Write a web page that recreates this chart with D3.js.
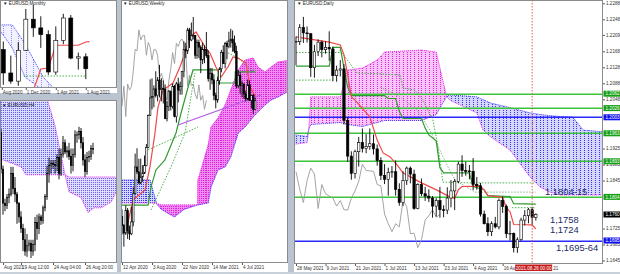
<!DOCTYPE html>
<html><head><meta charset="utf-8">
<script src="https://cdn.jsdelivr.net/npm/d3@7"></script>
<style>
body{margin:0;background:#b9c4d0;overflow:hidden}
svg{display:block}
text{font-family:"Liberation Sans",Arial,sans-serif}
</style></head><body>
<script>
// ---------- DAILY (28 May .. 27 Aug 2021) ----------
const dDateLabels = ["28 May 2021","9 Jun 2021","21 Jun 2021","1 Jul 2021","13 Jul 2021","23 Jul 2021","4 Aug 2021","16 Aug 2021"];
const dDateIdx = [0,8,16,24,32,40,48,56];
const dOpen = [1.2193,1.2192,1.2228,1.2214,1.2212,1.2127,1.2167,1.2191,1.2172,1.2178,1.2174,1.2107,1.2121,1.2124,1.1995,1.1906,1.1863,1.1917,1.1940,1.1925,1.1930,1.1937,1.1924,1.1895,1.1858,1.1848,1.1865,1.1867,1.1823,1.1790,1.1845,1.1876,1.1861,1.1775,1.1835,1.1812,1.1806,1.1801,1.1781,1.1795,1.1772,1.1771,1.1801,1.1819,1.1843,1.1886,1.1870,1.1869,1.1868,1.1835,1.1832,1.1761,1.1737,1.1717,1.1737,1.1729,1.1795,1.1780,1.1712,1.1713,1.1677,1.1697,1.1746,1.1757,1.1772,1.1753];
const dHigh = [1.2205,1.2236,1.2254,1.2230,1.2214,1.2184,1.2198,1.2195,1.2193,1.2218,1.2180,1.2132,1.2146,1.2136,1.2003,1.1918,1.1922,1.1954,1.1975,1.1961,1.1975,1.1960,1.1935,1.1903,1.1886,1.1877,1.1881,1.1895,1.1838,1.1868,1.1880,1.1880,1.1872,1.1838,1.1850,1.1829,1.1823,1.1806,1.1801,1.1829,1.1783,1.1828,1.1846,1.1849,1.1892,1.1908,1.1892,1.1884,1.1901,1.1854,1.1839,1.1770,1.1753,1.1743,1.1754,1.1800,1.1805,1.1785,1.1744,1.1715,1.1703,1.1752,1.1771,1.1776,1.1779,1.1763];
const dLow = [1.2133,1.2184,1.2189,1.2190,1.2104,1.2102,1.2156,1.2153,1.2162,1.2144,1.2093,1.2092,1.2105,1.1985,1.1892,1.1847,1.1850,1.1880,1.1915,1.1913,1.1922,1.1910,1.1882,1.1846,1.1836,1.1807,1.1852,1.1807,1.1782,1.1781,1.1834,1.1838,1.1772,1.1773,1.1806,1.1794,1.1791,1.1752,1.1755,1.1752,1.1753,1.1761,1.1778,1.1771,1.1838,1.1854,1.1857,1.1848,1.1821,1.1822,1.1755,1.1735,1.1706,1.1706,1.1725,1.1723,1.1764,1.1701,1.1695,1.1665,1.1664,1.1694,1.1733,1.1738,1.1735,1.1745];
const dClose = [1.2193,1.2227,1.2214,1.2212,1.2127,1.2167,1.2191,1.2172,1.2178,1.2174,1.2107,1.2121,1.2124,1.1995,1.1906,1.1863,1.1917,1.1940,1.1925,1.1930,1.1937,1.1924,1.1895,1.1858,1.1848,1.1865,1.1867,1.1823,1.1790,1.1845,1.1876,1.1861,1.1775,1.1835,1.1812,1.1806,1.1801,1.1781,1.1795,1.1772,1.1771,1.1801,1.1819,1.1843,1.1886,1.1870,1.1869,1.1868,1.1835,1.1832,1.1761,1.1737,1.1717,1.1737,1.1729,1.1795,1.1780,1.1712,1.1713,1.1677,1.1697,1.1746,1.1757,1.1772,1.1753,1.1760];
// ichimoku readings (bar index, price)
const dTenkan = [[0,1.2204],[9,1.2191],[12,1.2184],[13,1.2159],[14,1.2109],[15,1.2054],[16,1.2046],[20,1.2004],[22,1.1946],[23.6,1.1914],[25.5,1.1904],[27.4,1.1884],[29,1.1864],[31,1.1854],[33.6,1.1841],[36.3,1.1829],[38.2,1.1821],[41.7,1.1804],[43,1.1800],[44,1.1822],[45,1.1830],[50,1.1831],[51,1.1821],[52,1.1807],[56,1.1803],[57,1.1777],[58,1.1767],[59,1.1735],[64,1.1734],[65,1.1724]];
const dKijun = [[0,1.2131],[9,1.2131],[10,1.2178],[12,1.2178],[13,1.2126],[14,1.2079],[15,1.2057],[24,1.2057],[25,1.2050],[27,1.2050],[28,1.2018],[29,1.2000],[34,1.2000],[35,1.1976],[36,1.1959],[38,1.1944],[39,1.1877],[40,1.1864],[47,1.1864],[48,1.1830],[51,1.1822],[52,1.1807],[58,1.1805],[59,1.1787],[65,1.1786]];
const dDotted1 = [[0,1.2165],[12,1.2165]];
const dDotted2 = [[0,1.2096],[10,1.2096]];
const dDotted3 = [[11.9,1.2171],[16.5,1.2114],[28.2,1.2109],[29,1.2076],[32.2,1.2071],[34.4,1.2046],[37.1,1.1996],[38.5,1.1929],[39.8,1.1841],[47.2,1.1839],[65,1.1839]];
const dDotted4 = [[22.8,1.2079],[28.2,1.2054],[32.8,1.2021],[36.3,1.1971],[39,1.1921],[40.9,1.1884],[43.1,1.1846],[48.5,1.1816],[65,1.1816]];
const dDotted5 = [[58.5,1.1777],[65,1.1777]];
const dCloudIdx = [-1,3,3.5,4,12,14,18,22,24,34,38,40.8,41.7,49,50.7,52.6,58,63.4,66.1,68.8,71.5,75,77.8,84];
const dSpanA = [1.1960,1.1955,1.1975,1.1985,1.1990,1.1985,1.1980,1.1990,1.1995,1.1995,1.2010,1.2055,1.2059,1.2054,1.2047,1.2039,1.2027,1.2014,1.2010,1.2007,1.2005,1.2004,1.1971,1.1966];
const dSpanB = [1.1935,1.1940,1.1975,1.2054,1.2054,1.2121,1.2126,1.2146,1.2166,1.2171,1.2166,1.2055,1.2046,1.2014,1.1971,1.1955,1.1921,1.1854,1.1829,1.1816,1.1809,1.1809,1.1809,1.1809];
const dLevels = [1.2062,1.2026,1.2003,1.1963,1.1893,1.1804,1.1695];
const dLevelKind = ["g","g","b","g","g","g","b"];
const dPriceTicks = [1.2288,1.2248,1.2209,1.2168,1.2128,1.2088,1.2048,1.1925,1.1885,1.1845,1.1725,1.1685,1.1645];
const dLastPrice = 1.1760;
const dCursorIdx = 64;
const dCursorLabel = "2021.08.26 00:00";
const dNotes = ["1,1804-15","1,1758","1,1724","1,1695-64"];

// ---------- WEEKLY (12 Apr 2020 .. 22 Aug 2021) ----------
const wDateLabels = ["12 Apr 2020","3 Aug 2020","22 Nov 2020","14 Mar 2021","4 Jul 2021"];
const wDateIdx = [0,16,32,48,64];
const wOpen = [1.0940,1.0876,1.0823,1.0982,1.0839,1.0818,1.0902,1.1101,1.1290,1.1256,1.1177,1.1220,1.1247,1.1300,1.1428,1.1655,1.1778,1.1787,1.1842,1.1794,1.1904,1.1838,1.1846,1.1838,1.1632,1.1716,1.1826,1.1718,1.1860,1.1646,1.1876,1.1833,1.1857,1.1963,1.2121,1.2110,1.2258,1.2187,1.2216,1.2219,1.2079,1.2169,1.2136,1.2046,1.2119,1.2118,1.2077,1.1914,1.1952,1.1905,1.1795,1.1763,1.1900,1.1983,1.2098,1.2020,1.2163,1.2141,1.2181,1.2193,1.2166,1.2107,1.1863,1.1937,1.1865,1.1876,1.1806,1.1771,1.1870,1.1761,1.1795,1.1697];
const wHigh = [1.0990,1.0887,1.1019,1.1000,1.0876,1.1009,1.1146,1.1384,1.1422,1.1348,1.1349,1.1303,1.1371,1.1452,1.1660,1.1909,1.1916,1.1866,1.1966,1.1925,1.2011,1.1917,1.1901,1.1872,1.1755,1.1832,1.1828,1.1880,1.1870,1.1891,1.1920,1.1892,1.1965,1.2177,1.2167,1.2273,1.2272,1.2310,1.2349,1.2223,1.2190,1.2189,1.2150,1.2169,1.2150,1.2243,1.2113,1.1990,1.1989,1.1945,1.1815,1.1927,1.1994,1.2117,1.2150,1.2173,1.2181,1.2245,1.2266,1.2254,1.2218,1.2146,1.1975,1.1960,1.1895,1.1880,1.1829,1.1908,1.1901,1.1800,1.1805,1.1779];
const wLow = [1.0812,1.0727,1.0810,1.0782,1.0775,1.0808,1.0871,1.1096,1.1240,1.1168,1.1169,1.1185,1.1240,1.1295,1.1422,1.1650,1.1696,1.1711,1.1780,1.1753,1.1781,1.1753,1.1738,1.1627,1.1612,1.1685,1.1689,1.1702,1.1640,1.1603,1.1746,1.1800,1.1801,1.1923,1.2058,1.2088,1.2130,1.2178,1.2191,1.2054,1.2054,1.2059,1.1952,1.2016,1.2023,1.2060,1.1893,1.1835,1.1874,1.1762,1.1704,1.1743,1.1870,1.1958,1.2018,1.1986,1.2051,1.2128,1.2133,1.2104,1.2093,1.1847,1.1847,1.1807,1.1782,1.1772,1.1752,1.1761,1.1755,1.1706,1.1664,1.1694];
const wClose = [1.0876,1.0823,1.0982,1.0839,1.0818,1.0902,1.1101,1.1290,1.1256,1.1177,1.1220,1.1247,1.1300,1.1428,1.1655,1.1778,1.1787,1.1842,1.1794,1.1904,1.1838,1.1846,1.1838,1.1632,1.1716,1.1826,1.1718,1.1860,1.1646,1.1876,1.1833,1.1857,1.1963,1.2121,1.2110,1.2258,1.2187,1.2216,1.2219,1.2079,1.2169,1.2136,1.2046,1.2119,1.2118,1.2077,1.1914,1.1952,1.1905,1.1795,1.1763,1.1900,1.1983,1.2098,1.2020,1.2163,1.2141,1.2181,1.2193,1.2166,1.2107,1.1863,1.1937,1.1865,1.1876,1.1806,1.1771,1.1870,1.1761,1.1795,1.1697,1.1760];
const wTenkan = [[3,1.0890],[5.9,1.1057],[12.3,1.1127],[14.9,1.1290],[17.6,1.1530],[19.2,1.1713],[21.9,1.1833],[27.2,1.1883],[30.9,1.1996],[33.6,1.2095],[36.3,1.2208],[39.5,1.2243],[44.3,1.2137],[46.9,1.2095],[50.1,1.1996],[52.8,1.1925],[56.5,1.1996],[59.2,1.2067],[61.9,1.2059],[66.1,1.2024],[68.3,1.1855],[71,1.1790]];
const wKijun = [[0,1.1021],[13.9,1.1021],[15.5,1.1149],[18.1,1.1269],[22.9,1.1339],[28.8,1.1530],[31.5,1.1671],[36.3,1.1904],[37.9,1.1975],[51.2,1.1975],[51.3,1.1883],[60.3,1.1883],[60.4,1.1961],[71,1.1961]];
const wDotted1 = [[13.9,1.1410],[40.5,1.1572]];
const wDotted2 = [[15.5,1.0986],[26.1,1.1290],[33.6,1.1530],[38.9,1.1954]];
const wDotted3 = [[56.5,1.2095],[62,1.2060],[68.8,1.1975],[71,1.1975]];
const wTrend = [[29.9,1.1586],[74.1,1.1798]];
const wCloudIdx = [-2,15,17,18.5,21,28,33,40.4,40.5,46,47.5,51.2,55,58,62,65.6,70,72.5,76.3,79.5,83.2,90];
const wSpanA = [1.1198,1.1198,1.1100,1.1030,1.0990,1.0937,1.0990,1.1022,1.1022,1.1036,1.1149,1.1269,1.1290,1.1360,1.1530,1.1572,1.1643,1.1678,1.1728,1.1763,1.1784,1.1833];
const wSpanB = [1.1036,1.1036,1.1036,1.1030,1.1022,1.1022,1.1022,1.1022,1.1198,1.1445,1.1572,1.1636,1.1728,1.1833,1.1975,1.2045,1.2059,1.1996,1.1961,1.1996,1.2031,1.2045];

// ---------- MONTHLY (Aug 2020 .. Aug 2021) ----------
const mDateLabels = ["Aug 2020","1 Dec 2020","1 Apr 2021","1 Aug 2021"];
const mDateIdx = [0.8,4,8,12];
const mOpen = [1.1777,1.1936,1.1721,1.1646,1.1929,1.2216,1.2136,1.2074,1.1730,1.2020,1.2227,1.1858,1.1870];
const mHigh = [1.1966,1.2011,1.1881,1.2004,1.2310,1.2349,1.2243,1.2113,1.2150,1.2266,1.2254,1.1909,1.1901];
const mLow = [1.1696,1.1612,1.1622,1.1603,1.1925,1.2054,1.1952,1.1704,1.1704,1.1986,1.1847,1.1752,1.1664];
const mClose = [1.1936,1.1721,1.1646,1.1929,1.2216,1.2136,1.2074,1.1730,1.2020,1.2227,1.1858,1.1870,1.1760];
const mTenkan = [[5,1.1558],[6,1.1758],[7,1.1767],[8,1.1976],[11,1.1976],[12,1.2006],[12.5,1.2010]];
const mDotted = [[3.7,1.1693],[12,1.1693]];
const mCloudIdx = [-1,0.8,2.2,3.9,6.3,8];
const mSpanA = [1.2163,1.2163,1.2163,1.1990,1.1684,1.1560];
const mSpanB = [1.2150,1.2089,1.1950,1.1684,1.1560,1.1500];

// ---------- H4 (17 Aug 12:00 .. 27 Aug 04:00) ----------
const hDateLabels = ["Aug 2021","19 Aug 12:00","24 Aug 04:00","26 Aug 20:00"];
const hDateIdx = [1,10,26,42];
const hOpen = [1.1774,1.1742,1.1712,1.1710,1.1717,1.1720,1.1738,1.1725,1.1720,1.1712,1.1700,1.1690,1.1680,1.1670,1.1675,1.1677,1.1670,1.1676,1.1695,1.1690,1.1700,1.1697,1.1708,1.1718,1.1738,1.1745,1.1747,1.1746,1.1745,1.1752,1.1738,1.1755,1.1765,1.1757,1.1758,1.1753,1.1745,1.1755,1.1772,1.1772,1.1775,1.1765,1.1750,1.1740,1.1752,1.1753,1.1760];
const hHigh = [1.1777,1.1745,1.1716,1.1720,1.1725,1.1744,1.1744,1.1735,1.1722,1.1713,1.1705,1.1694,1.1690,1.1685,1.1680,1.1680,1.1680,1.1700,1.1702,1.1703,1.1702,1.1710,1.1720,1.1745,1.1752,1.1750,1.1750,1.1750,1.1755,1.1760,1.1760,1.1771,1.1768,1.1762,1.1765,1.1760,1.1760,1.1776,1.1775,1.1779,1.1778,1.1770,1.1755,1.1757,1.1758,1.1763,1.1765];
const hLow = [1.1738,1.1702,1.1705,1.1707,1.1712,1.1718,1.1720,1.1713,1.1694,1.1695,1.1686,1.1670,1.1666,1.1665,1.1670,1.1664,1.1666,1.1670,1.1680,1.1685,1.1693,1.1694,1.1705,1.1715,1.1730,1.1738,1.1742,1.1738,1.1740,1.1733,1.1736,1.1752,1.1755,1.1752,1.1750,1.1738,1.1740,1.1752,1.1765,1.1768,1.1760,1.1745,1.1735,1.1737,1.1748,1.1750,1.1755];
const hClose = [1.1742,1.1712,1.1710,1.1717,1.1720,1.1738,1.1725,1.1720,1.1712,1.1700,1.1690,1.1680,1.1670,1.1675,1.1677,1.1670,1.1676,1.1695,1.1690,1.1700,1.1697,1.1708,1.1718,1.1738,1.1745,1.1747,1.1746,1.1745,1.1752,1.1738,1.1755,1.1765,1.1757,1.1758,1.1753,1.1745,1.1755,1.1772,1.1772,1.1775,1.1765,1.1750,1.1740,1.1752,1.1753,1.1760,1.1760];
const hCloudIdx = [-2,10,12.5,22.5,27,31,32,34,40,43.5,46.5,50,55,58.5,62];
const hSpanA = [1.1807,1.1807,1.1807,1.1807,1.1780,1.1746,1.1737,1.1722,1.1717,1.1704,1.1708,1.1708,1.1713,1.1725,1.1728];
const hSpanB = [1.1752,1.1744,1.1737,1.1737,1.1737,1.1737,1.1737,1.1735,1.1735,1.1735,1.1735,1.1735,1.1735,1.1735,1.1735];

// ================= drawing =================
const RED = "#f04848", GREEN = "#2f9a2f", DOTG = "#34a834", GREY = "#9a9a9a";
const PINK = "#ee2cee", BLUE = "#3c3cff";

const svg = d3.select("body").append("svg").attr("width", 620).attr("height", 274);
svg.append("rect").attr("width", 620).attr("height", 274).attr("fill", "#b9c4d0");
const defs = svg.append("defs");

function makePanel(o) {
  svg.append("rect").attr("x", o.frame[0]).attr("y", o.frame[1])
    .attr("width", o.frame[2]).attr("height", o.frame[3]).attr("fill", "#fff");
  defs.append("clipPath").attr("id", "c-" + o.name).append("rect")
    .attr("x", o.plot[0]).attr("y", o.plot[1])
    .attr("width", o.plot[2] - o.plot[0]).attr("height", o.plot[3] - o.plot[1]);
  const g = svg.append("g").attr("clip-path", `url(#c-${o.name})`);
  const x = d3.scaleLinear().domain(o.xd).range(o.xr);
  const y = d3.scaleLinear().domain(o.yd).range(o.yr);
  return {g, x, y, o};
}

function frame(P) {
  const o = P.o;
  svg.append("rect").attr("x", o.plot[0] + 0.5).attr("y", o.plot[1] + 0.5)
    .attr("width", o.plot[2] - o.plot[0] - 1).attr("height", o.plot[3] - o.plot[1] - 1)
    .attr("fill", "none").attr("stroke", "#8c8c8c").attr("stroke-width", 1);
}

// cloud: tinted segments between the spans, then dotted columns per bar clipped to them
function cloud(P, name, idx, A, B, up, dn, edgeA, edgeB, bars) {
  const pts = idx.map((d, i) => ({i: d, a: A[i], b: B[i]}));
  const area = d3.area().x(d => P.x(d.i)).y0(d => P.y(d.a)).y1(d => P.y(d.b));
  const segs = d3.pairs(pts);
  const isUp = s => s[0].a + s[1].a >= s[0].b + s[1].b;
  P.g.append("g").selectAll("path").data(segs).join("path")
    .attr("d", s => area(s))
    .style("fill", s => isUp(s) ? up.tint : dn.tint)
    .style("stroke", s => isUp(s) ? up.tint : dn.tint).attr("stroke-width", 0.6);
  const groups = [["u", up, segs.filter(isUp)], ["d", dn, segs.filter(s => !isUp(s))]];
  groups.forEach(([k, c, ss]) => {
    const id = `cl-${name}-${k}`;
    defs.append("clipPath").attr("id", id).selectAll("path").data(ss).join("path").attr("d", s => area(s));
    P.g.append("g").attr("clip-path", `url(#${id})`)
      .selectAll("line").data(bars).join("line")
      .attr("x1", i => Math.round(P.x(i)) + 0.5).attr("x2", i => Math.round(P.x(i)) + 0.5)
      .attr("y1", P.o.plot[1]).attr("y2", P.o.plot[3])
      .style("stroke", c.dot).attr("stroke-width", 1).attr("stroke-dasharray", "1,1");
  });
  const la = d3.line().x(d => P.x(d.i)).y(d => P.y(d.a));
  const lb = d3.line().x(d => P.x(d.i)).y(d => P.y(d.b));
  P.g.append("path").attr("d", la(pts)).attr("fill", "none").style("stroke", edgeA)
    .attr("stroke-width", 1).attr("stroke-dasharray", "1,1");
  P.g.append("path").attr("d", lb(pts)).attr("fill", "none").style("stroke", edgeB)
    .attr("stroke-width", 1).attr("stroke-dasharray", "1,1");
}

function series(P, pts, color, width, dash) {
  const line = d3.line().x(d => P.x(d[0])).y(d => P.y(d[1]));
  const p = P.g.append("path").attr("d", line(pts)).attr("fill", "none")
    .style("stroke", color).attr("stroke-width", width);
  if (dash) p.attr("stroke-dasharray", dash);
}

function candles(P, O, Hi, Lo, C, bw) {
  const bars = O.map((o, i) => ({i, o, h: Hi[i], l: Lo[i], c: C[i]}));
  const g = P.g.append("g");
  g.selectAll("line").data(bars).join("line")
    .attr("x1", d => P.x(d.i)).attr("x2", d => P.x(d.i))
    .attr("y1", d => P.y(d.h)).attr("y2", d => P.y(d.l))
    .style("stroke", "#000").attr("stroke-width", 0.9);
  g.selectAll("rect").data(bars).join("rect")
    .attr("x", d => P.x(d.i) - bw / 2)
    .attr("y", d => P.y(Math.max(d.o, d.c)))
    .attr("width", bw)
    .attr("height", d => Math.max(0.8, Math.abs(P.y(d.o) - P.y(d.c))))
    .style("fill", d => d.c >= d.o ? "#fff" : "#000")
    .style("stroke", "#000").attr("stroke-width", 0.6);
}

function timeAxis(P, idx, labels, yPos) {
  const ax = d3.axisBottom(P.x).tickValues(idx).tickFormat((d, i) => labels[i]).tickSize(2);
  const g = svg.append("g").attr("transform", `translate(0,${yPos})`).call(ax);
  g.select(".domain").remove();
  g.selectAll(".tick line").attr("stroke", "#555");
  g.selectAll(".tick text").attr("text-anchor", "start").attr("dx", 0.5).attr("y", 2.5)
    .attr("font-size", 4.6).attr("fill", "#333").attr("font-family", "Liberation Sans, Arial");
  return g;
}

function header(x, y, t) {
  svg.append("text").attr("x", x).attr("y", y).attr("font-size", 4.6).attr("fill", "#222").text("\u25BC " + t);
}

const pinkStyle = {tint: "#f7c4f7", dot: "#e61ee6"};
const blueStyle = {tint: "#d6d6fd", dot: "#3535ff"};

// ---------- monthly ----------
const M = makePanel({name: "m", frame: [0, 0, 117, 93], plot: [0, 0, 117, 88],
  xd: [1, 12], xr: [3.3, 85.8], yd: [1.2227, 1.1730], yr: [18, 72]});
cloud(M, "m", mCloudIdx, mSpanA, mSpanB, {tint: "#f1f1ff", dot: "#8c8cff"}, {tint: "#f1f1ff", dot: "#8c8cff"}, BLUE, BLUE, d3.range(0, 9));
series(M, mDotted, DOTG, 0.9, "1.5,1.5");
series(M, mTenkan, RED, 1.2);
candles(M, mOpen, mHigh, mLow, mClose, 4);
frame(M);
timeAxis(M, mDateIdx, mDateLabels, 88);
header(3, 5, "EURUSD,Monthly");

// ---------- H4 ----------
const HP = makePanel({name: "h", frame: [0, 100, 117, 174], plot: [0, 100, 117, 263],
  xd: [0, 46], xr: [1, 93], yd: [1.1785, 1.1664], yr: [120, 258]});
cloud(HP, "h", hCloudIdx, hSpanA, hSpanB, {tint: "#dcdcff", dot: "#5a5aff"}, {tint: "#e0dcff", dot: "#7060f5"}, PINK, PINK, d3.range(-1, 60));
candles(HP, hOpen, hHigh, hLow, hClose, 1.4);
frame(HP);
timeAxis(HP, hDateIdx, hDateLabels, 263);
header(2, 107, "EURUSD,H4");

// ---------- weekly ----------
const WP = makePanel({name: "w", frame: [121, 0, 167, 274], plot: [121, 0, 288, 263],
  xd: [0, 16], xr: [122, 152], yd: [1.2349, 1.1664], yr: [17, 114]});
cloud(WP, "w", wCloudIdx, wSpanA, wSpanB, blueStyle, {tint: "#f08cf0", dot: "#e01ee0"}, BLUE, PINK, d3.range(-1, 90));
series(WP, wClose.slice(26).map((c, i) => [i, c]), GREY, 0.9);
series(WP, wDotted1, DOTG, 0.9, "1.5,1.5");
series(WP, wDotted2, DOTG, 0.9, "1.5,1.5");
series(WP, wDotted3, DOTG, 0.9, "1.5,1.5");
series(WP, wKijun, GREEN, 1.2);
series(WP, wTenkan, RED, 1.2);
series(WP, wTrend, "#b35ee6", 1.2);
candles(WP, wOpen, wHigh, wLow, wClose, 1.6);
frame(WP);
timeAxis(WP, wDateIdx, wDateLabels, 263);
header(123, 5, "EURUSD,Weekly");

// ---------- daily ----------
const DP = makePanel({name: "d", frame: [294, 0, 326, 274], plot: [294, 0, 603, 264],
  xd: [0, 10], xr: [296, 332.9], yd: [1.2288, 1.1645], yr: [3.3, 260.5]});
cloud(DP, "d", dCloudIdx, dSpanA, dSpanB, blueStyle, pinkStyle, BLUE, PINK, d3.range(-1, 85));
// horizontal levels
DP.g.append("g").selectAll("rect").data(dLevels).join("rect")
  .attr("x", 294).attr("width", 309)
  .attr("y", d => Math.round(DP.y(d)) - 0.5).attr("height", 1.5)
  .style("fill", (d, i) => dLevelKind[i] === "g" ? "#3cc43c" : "#2828ff");
series(DP, dClose.slice(26).map((c, i) => [i, c]), GREY, 0.9);
series(DP, dDotted1, DOTG, 0.9, "1.5,1.5");
series(DP, dDotted2, DOTG, 0.9, "1.5,1.5");
series(DP, dDotted3, DOTG, 0.9, "1.5,1.5");
series(DP, dDotted4, "#7fae7f", 0.9, "1.5,1.5");
series(DP, dDotted5, DOTG, 0.9, "1.5,1.5");
series(DP, dKijun, GREEN, 1.2);
series(DP, dTenkan, RED, 1.2);
candles(DP, dOpen, dHigh, dLow, dClose, 2.4);
// cursor line
DP.g.append("line").attr("x1", DP.x(dCursorIdx)).attr("x2", DP.x(dCursorIdx))
  .attr("y1", 0).attr("y2", 264).style("stroke", "#e05050").attr("stroke-width", 0.9)
  .attr("stroke-dasharray", "1.5,1.5");
frame(DP);
// annotations
const noteLayout = [[545, 195], [550, 223], [550, 232.5], [556, 251]];
svg.append("g").selectAll("text").data(dNotes).join("text")
  .attr("x", (d, i) => noteLayout[i][0]).attr("y", (d, i) => noteLayout[i][1])
  .attr("font-family", "Liberation Serif, Times New Roman, serif").attr("font-size", 9.4)
  .attr("fill", "#1c2b66").text(d => d);
// price axis
const pax = svg.append("g").attr("transform", "translate(603,0)")
  .call(d3.axisRight(DP.y).tickValues(dPriceTicks).tickFormat(d3.format(".4f")).tickSize(2));
pax.select(".domain").remove();
pax.selectAll(".tick line").attr("stroke", "#555");
pax.selectAll(".tick text").attr("font-size", 4.6).attr("fill", "#333").attr("x", 3).attr("font-family", "Liberation Sans, Arial");
const boxes = [...dLevels.map((v, i) => ({v, c: dLevelKind[i] === "g" ? "#16a016" : "#1010f0"})), {v: dLastPrice, c: "#000"}];
const bx = svg.append("g").selectAll("g").data(boxes).join("g")
  .attr("transform", d => `translate(603,${DP.y(d.v)})`);
bx.append("rect").attr("x", 0.5).attr("y", -3).attr("width", 17).attr("height", 6).style("fill", d => d.c);
bx.append("text").attr("x", 2.5).attr("y", 1.7).attr("font-size", 4.6).attr("fill", "#fff").text(d => d3.format(".4f")(d.v));
timeAxis(DP, dDateIdx, dDateLabels, 264);
// cursor date label
const cx = DP.x(dCursorIdx);
svg.append("rect").attr("x", cx - 17).attr("y", 264.5).attr("width", 37).attr("height", 6.5).attr("fill", "#c41a1a");
svg.append("text").attr("x", cx + 1.5).attr("y", 269.6).attr("text-anchor", "middle")
  .attr("font-size", 4.6).attr("fill", "#fff").text(dCursorLabel);
svg.append("text").attr("x", cx + 21).attr("y", 269.6).attr("font-size", 4.6).attr("fill", "#333").text("21");
header(297, 5, "EURUSD,Daily");
// bottom strip
svg.append("rect").attr("x", 0).attr("y", 272).attr("width", 620).attr("height", 2).attr("fill", "#c8d0da");
</script>
</body></html>
